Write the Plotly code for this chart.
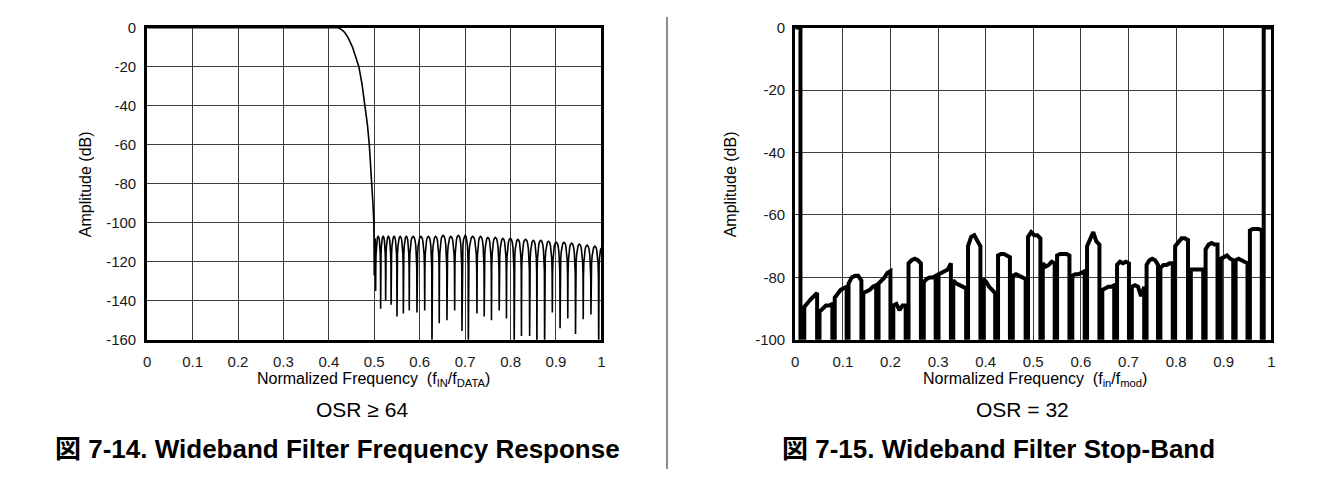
import plotly.graph_objects as go

# ---------------- left: wideband filter frequency response (OSR >= 64) ----------------
pass_freq = [0, 0.42, 0.428, 0.435, 0.442, 0.447, 0.452, 0.459, 0.466, 0.473, 0.48,
             0.485, 0.489, 0.492, 0.495, 0.497, 0.499]
pass_db = [0, 0, -1, -2.5, -5, -7.5, -10, -15, -20, -29, -40, -50, -60, -70, -80, -90, -100]

# stop band: null positions / depths and the lobe peak between two nulls
null_freq = [0.500, 0.503, 0.514, 0.525, 0.537, 0.550, 0.564, 0.577, 0.594, 0.611,
             0.627, 0.643, 0.660, 0.677, 0.693, 0.707, 0.726, 0.742, 0.758, 0.775,
             0.791, 0.808, 0.824, 0.842, 0.858, 0.875, 0.892, 0.909, 0.926, 0.943,
             0.960, 0.977, 0.994, 1.006]
null_db = [-127, -135, -144, -140, -142, -148, -146.5, -145, -146, -145,
           -165, -151.5, -150, -145, -155.5, -165, -146.5, -148, -150, -145,
           -149, -165, -158, -158, -165, -165, -146, -154, -149, -157,
           -149.5, -147, -165, -165]
peak_db = [-108, -107, -107, -107, -107, -107, -107, -107, -107, -107,
           -107, -106.5, -107, -106.5, -106.5, -107, -107, -107.5, -107.5, -108,
           -108, -108.5, -108.5, -109, -109, -109.5, -110, -110, -110.5, -111,
           -111.5, -112, -113]
# shape of one ripple lobe (fraction of lobe width, dB below its peak)
lobe_pos = [0.03, 0.08, 0.15, 0.25, 0.35, 0.5, 0.65, 0.75, 0.85, 0.92, 0.97]
lobe_drop = [-16, -9, -5, -2, -0.6, 0, -0.6, -2, -5, -9, -16]

# ---------------- right: wideband filter stop-band (OSR = 32) ----------------
band_edge_lo = 0.011
band_edge_hi = 0.984
seg_lo = [0.019, 0.051, 0.083, 0.112, 0.143, 0.175, 0.206, 0.238, 0.270, 0.301,
          0.332, 0.363, 0.395, 0.426, 0.457, 0.489, 0.520, 0.550, 0.582, 0.613,
          0.645, 0.676, 0.707, 0.738, 0.767, 0.798, 0.831, 0.862, 0.894, 0.925, 0.955]
seg_hi = [0.046, 0.078, 0.108, 0.139, 0.170, 0.200, 0.232, 0.264, 0.295, 0.327,
          0.359, 0.389, 0.420, 0.451, 0.484, 0.515, 0.545, 0.576, 0.608, 0.639,
          0.670, 0.701, 0.733, 0.762, 0.793, 0.825, 0.857, 0.887, 0.920, 0.950, 0.980]
seg_levels = [
    [-89.5, -88, -87, -86, -85], [-91, -90, -89, -89, -88.5],
    [-86.5, -85, -84, -83.5, -83], [-82, -80, -79.5, -79.5, -81],
    [-85, -84.5, -84, -83, -82.5], [-82, -81, -80, -78.5, -78],
    [-89, -88.5, -90.5, -89, -89], [-75.5, -74.5, -74, -74.5, -75.5],
    [-81.5, -80.5, -80, -80, -79.5], [-79, -78.5, -78, -77.5, -75.5],
    [-81, -82, -82.5, -83, -83.5], [-70, -67, -66.5, -68.5, -70],
    [-80.5, -81.5, -83, -84, -85], [-73, -72.5, -72.5, -73, -73.5],
    [-79.5, -79, -79.5, -80, -80.5], [-67, -65.5, -66.5, -66.5, -67.5],
    [-75.5, -76.5, -76, -75, -75.5], [-73, -72.5, -72.5, -72.5, -73],
    [-79.5, -79, -79, -78.5, -78], [-70, -68, -65.5, -68.5, -69.5],
    [-84, -83.5, -83, -83, -82.5], [-76, -75, -75.5, -75, -75.5],
    [-83, -82.5, -83, -86, -83], [-76, -74.5, -74, -74.5, -76],
    [-77, -76, -76, -75.5, -75.5], [-70, -68.5, -67.5, -67.5, -68],
    [-77.5, -77.5, -77.5, -77.5, -77.5], [-71, -69.5, -69, -69.5, -69.5],
    [-74, -73.5, -73, -74, -74.5], [-74.5, -74, -74.5, -75, -75.5],
    [-65, -64.5, -64.5, -64.5, -65],
]

x_ticks = [0, 0.1, 0.2, 0.3, 0.4, 0.5, 0.6, 0.7, 0.8, 0.9, 1]
x_labels = ["0", "0.1", "0.2", "0.3", "0.4", "0.5", "0.6", "0.7", "0.8", "0.9", "1"]
y_ticks_left = [0, -20, -40, -60, -80, -100, -120, -140, -160]
y_ticks_right = [0, -20, -40, -60, -80, -100]

# build left curve
lx, ly = list(pass_freq), list(pass_db)
for i in range(len(null_freq) - 1):
    f0, f1 = null_freq[i], null_freq[i + 1]
    lx.append(f0)
    ly.append(null_db[i])
    for t, d in zip(lobe_pos, lobe_drop):
        lx.append(f0 + t * (f1 - f0))
        ly.append(peak_db[i] + d)
lx.append(null_freq[-1])
ly.append(null_db[-1])

# build right curve
rx = [0, band_edge_lo, band_edge_lo]
ry = [0, 0, -100]
for lo, hi, lv in zip(seg_lo, seg_hi, seg_levels):
    step = (hi - lo) / (len(lv) - 1)
    rx += [lo] + [lo + k * step for k in range(len(lv))] + [hi]
    ry += [-100] + lv + [-100]
rx += [band_edge_hi, band_edge_hi, 1]
ry += [-100, 0, 0]

# page body keeps its 8px margin, so the figure is 16px smaller than the window
PAD = 8
W, H = 1334 - 2 * PAD, 485 - 2 * PAD
FONT = "Liberation Sans, Arial, Noto Sans CJK JP, sans-serif"


def px(x):
    return (x - PAD) / W


def py(y):
    return 1 - (y - PAD) / H


fig = go.Figure()
fig.add_trace(go.Scatter(x=lx, y=ly, mode="lines", line=dict(color="black", width=1.6),
                         xaxis="x", yaxis="y", showlegend=False, hoverinfo="skip"))
fig.add_trace(go.Scatter(x=rx, y=ry, mode="lines", line=dict(color="black", width=4),
                         xaxis="x2", yaxis="y2", showlegend=False, hoverinfo="skip"))

ydom = [py(343), py(19)]
axis_common = dict(showline=True, mirror=True, linecolor="black", linewidth=3,
                   showgrid=True, gridcolor="#3c3c3c", gridwidth=1, zeroline=False,
                   ticks="", tickfont=dict(family=FONT, size=15, color="#1a1a1a"))

fig.update_layout(
    width=W, height=H, autosize=False,
    margin=dict(l=0, r=0, t=0, b=0),
    paper_bgcolor="white", plot_bgcolor="white",
    xaxis=dict(domain=[px(144), px(601)], range=[0, 1], anchor="y",
               tickvals=x_ticks, ticktext=x_labels, ticklabelstandoff=6, **axis_common),
    yaxis=dict(domain=ydom, range=[-160, 0], anchor="x",
               tickvals=y_ticks_left, ticktext=[str(v) for v in y_ticks_left],
               ticklabelstandoff=5, **axis_common),
    xaxis2=dict(domain=[px(796), px(1275)], range=[0, 1], anchor="y2",
                tickvals=x_ticks, ticktext=x_labels, ticklabelstandoff=6, **axis_common),
    yaxis2=dict(domain=ydom, range=[-100, 0], anchor="x2",
                tickvals=y_ticks_right, ticktext=[str(v) for v in y_ticks_right],
                ticklabelstandoff=4, **axis_common),
)


def note(x, y, text, size, bold=False, angle=0):
    fig.add_annotation(x=px(x), y=py(y), xref="paper", yref="paper", text=text,
                       showarrow=False, textangle=angle, xanchor="center", yanchor="middle",
                       font=dict(family=FONT, size=size, color="black",
                                 weight="bold" if bold else "normal"))


note(82, 182, "Amplitude (dB)", 16, angle=-90)
note(372, 384, "Normalized Frequency  (f<sub>IN</sub>/f<sub>DATA</sub>)", 16)
note(360, 415, "OSR ≥ 64", 21)
note(335, 456, "図 7-14. Wideband Filter Frequency Response", 26, bold=True)

note(731, 182, "Amplitude (dB)", 16, angle=-90)
note(1037, 384, "Normalized Frequency  (f<sub>in</sub>/f<sub>mod</sub>)", 16)
note(1025, 415, "OSR = 32", 21)
note(1001, 456, "図 7-15. Wideband Filter Stop-Band", 26, bold=True)

# table cell divider
fig.add_shape(type="line", xref="paper", yref="paper", x0=px(667), x1=px(667), y0=0, y1=1,
              line=dict(color="#8c8c8c", width=2))

fig.write_html("out.html", config={"displayModeBar": False})
